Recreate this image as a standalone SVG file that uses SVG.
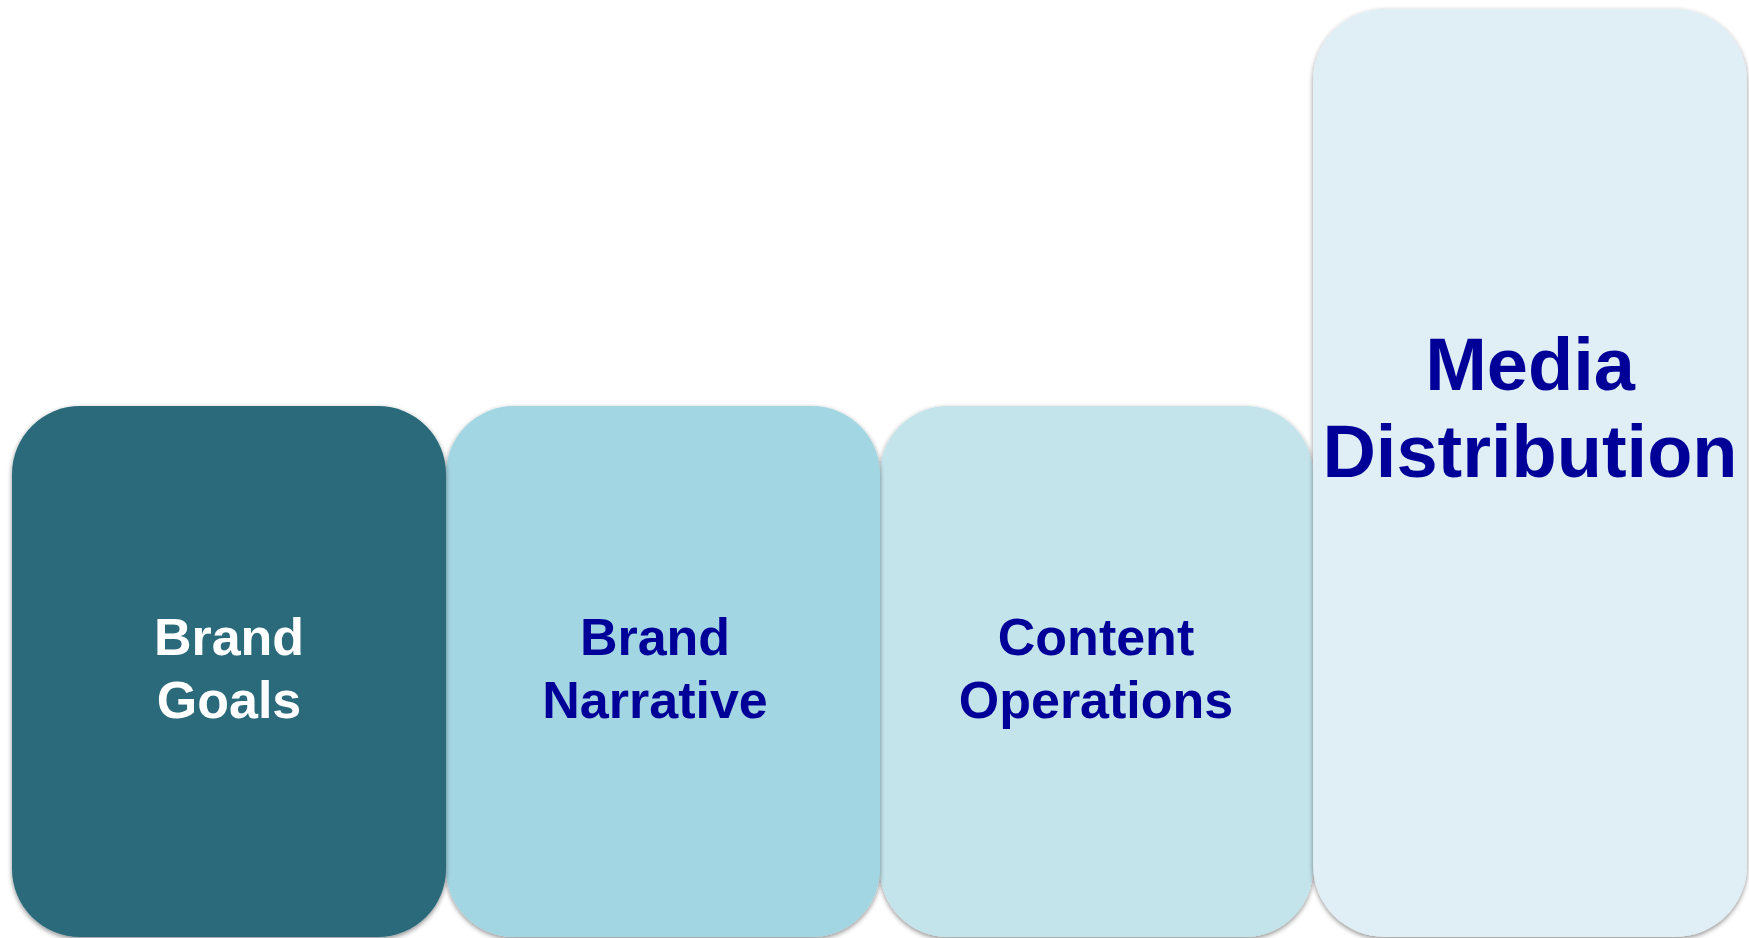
<svg xmlns="http://www.w3.org/2000/svg" width="1749" height="938" viewBox="0 0 1749 938">
  <style>
    .lbl { font-family: "Liberation Sans", Arial, sans-serif; font-weight: bold; text-anchor: middle; }
    .sm { font-size: 52px; }
    .lg { font-size: 74px; }
    .dark { fill: #000099; }
    .light { fill: #ffffff; }
  </style>
  <defs>
    <filter id="shade" x="-10%" y="-10%" width="120%" height="120%">
      <feGaussianBlur in="SourceAlpha" stdDeviation="2.5"/>
      <feOffset dx="0" dy="2" result="b"/>
      <feComponentTransfer><feFuncA type="linear" slope="0.45"/></feComponentTransfer>
      <feMerge><feMergeNode/><feMergeNode in="SourceGraphic"/></feMerge>
    </filter>
  </defs>
  <rect width="1749" height="938" fill="#ffffff"/>

  <g id="content-operations">
    <rect x="880" y="406" width="433" height="531" rx="68" ry="68" fill="#C4E4EC" filter="url(#shade)"/>
    <text class="lbl sm dark" x="1096" y="655">Content</text>
    <text class="lbl sm dark" x="1096" y="718">Operations</text>
  </g>

  <g id="brand-narrative">
    <rect x="446" y="406" width="434" height="531" rx="68" ry="68" fill="#A3D6E3" filter="url(#shade)"/>
    <text class="lbl sm dark" x="655" y="655">Brand</text>
    <text class="lbl sm dark" x="655" y="718">Narrative</text>
  </g>

  <g id="brand-goals">
    <rect x="12" y="406" width="434" height="531" rx="68" ry="68" fill="#2A6A7A" filter="url(#shade)"/>
    <text class="lbl sm light" x="229" y="655">Brand</text>
    <text class="lbl sm light" x="229" y="718">Goals</text>
  </g>

  <g id="media-distribution">
    <rect x="1313" y="9" width="434" height="928" rx="72" ry="72" fill="#E0EFF6" filter="url(#shade)"/>
    <text class="lbl lg dark" x="1530" y="390">Media</text>
    <text class="lbl lg dark" x="1530" y="477">Distribution</text>
  </g>

  <g id="connectors"/>
</svg>
